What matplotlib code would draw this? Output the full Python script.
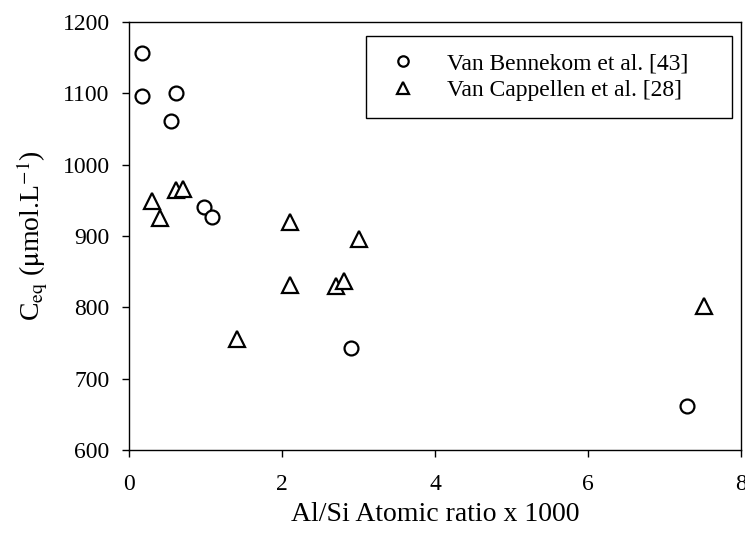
import matplotlib
matplotlib.use("Agg")
import matplotlib.pyplot as plt

# Van Bennekom et al. [43]
bennekom_x = [0.17, 0.17, 0.55, 0.61, 0.98, 1.08, 2.90, 7.29]
bennekom_y = [1156, 1096, 1061, 1101, 941, 926, 743, 661]

# Van Cappellen et al. [28]
cappellen_x = [0.30, 0.41, 0.61, 0.70, 1.41, 2.10, 2.10, 2.70, 2.81, 3.01, 7.51]
cappellen_y = [949, 925, 965, 966, 755, 920, 832, 830, 837, 896, 802]

x_ticks = [0, 2, 4, 6, 8]
y_ticks = [600, 700, 800, 900, 1000, 1100, 1200]

plt.rcParams['font.family'] = ['Liberation Serif', 'DejaVu Serif']
plt.rcParams['mathtext.fontset'] = 'stix'

fig = plt.figure(figsize=(7.45, 5.35), dpi=100)
ax = fig.add_axes([129 / 745, 1 - 450 / 535, 612 / 745, 428 / 535])

ax.plot(bennekom_x, bennekom_y, linestyle='none', marker='o', markersize=10,
        markerfacecolor='white', markeredgecolor='black', markeredgewidth=1.6,
        label='Van Bennekom et al. [43]')
ax.plot(cappellen_x, cappellen_y, linestyle='none', marker='^', markersize=11,
        markerfacecolor='white', markeredgecolor='black', markeredgewidth=1.6,
        label='Van Cappellen et al. [28]')

ax.set_xlim(0, 8)
ax.set_ylim(600, 1200)
ax.set_xticks(x_ticks)
ax.set_yticks(y_ticks)
ax.tick_params(direction='out', length=5, width=1, labelsize=17)
ax.tick_params(axis='x', pad=12)
ax.tick_params(axis='y', pad=9)
for s in ax.spines.values():
    s.set_linewidth(1)

ax.set_xlabel('Al/Si Atomic ratio x 1000', fontsize=20, labelpad=5)
ax.set_ylabel(r'C$_{\mathrm{eq}}$ ($\mathrm{\mu}$mol.L$^{\mathrm{-1}}$)', fontsize=20, labelpad=9)

leg = ax.legend(loc='upper left', bbox_to_anchor=(0.387, 0.967, 0.598, 0.0), mode='expand',
                fontsize=17, frameon=True, fancybox=False, edgecolor='black', framealpha=1,
                markerscale=0.75, handlelength=1.74, handletextpad=1.0,
                borderpad=0.7, labelspacing=0.23, borderaxespad=0)
leg.get_frame().set_linewidth(1)

fig.savefig('out.png', dpi=100)
